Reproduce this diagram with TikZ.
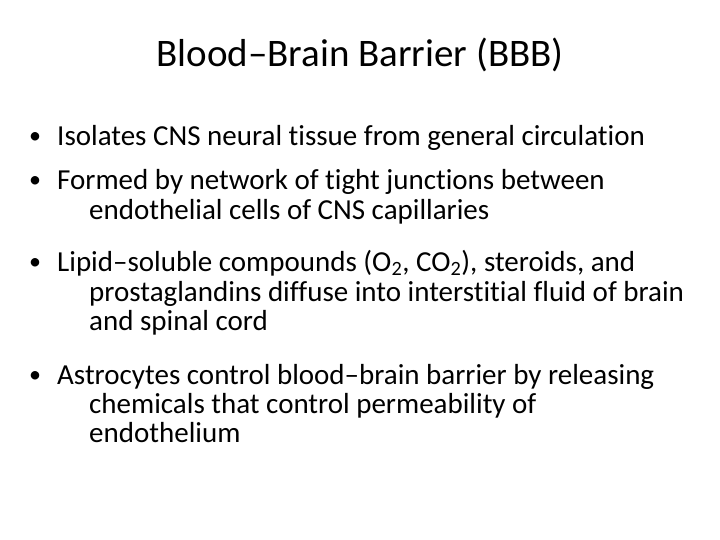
\documentclass[tikz,border=0pt]{standalone}
\usepackage{fontspec}
\setmainfont[Ligatures={NoCommon}]{Carlito}
\tikzset{
  bodyline/.style={anchor=base west,inner sep=0pt,font=\fontsize{29}{35}\selectfont},
  bulletmark/.style={anchor=base west,inner sep=0pt,font=\fontsize{24}{29}\selectfont}
}
\begin{document}
\begin{tikzpicture}[x=1pt,y=-1pt]
	\useasboundingbox (0,0) rectangle (720,540);

	\node[anchor=base,inner sep=0pt,font=\fontsize{39}{47}\selectfont] (title) at (360,67) {Blood--Brain Barrier (BBB)};

	% bullets
	\node[bulletmark] (b1) at (29,144) {•};
	\node[bulletmark] (b2) at (29,188) {•};
	\node[bulletmark] (b3) at (29,269) {•};
	\node[bulletmark] (b4) at (29,382) {•};

	% lines
	\node[bodyline] (l1) at (57,146) {Isolates CNS neural tissue from general circulation};
	\node[bodyline] (l2) at (57,190) {Formed by network of tight junctions between};
	\node[bodyline] (l3) at (89,220) {endothelial cells of CNS capillaries};
	\node[bodyline] (l4) at (57,271) {Lipid--soluble compounds (O\textsubscript{2}, CO\textsubscript{2}), steroids, and};
	\node[bodyline] (l5) at (89,301) {prostaglandins diffuse into interstitial fluid of brain};
	\node[bodyline] (l6) at (89,330) {and spinal cord};
	\node[bodyline] (l7) at (57,384) {Astrocytes control blood--brain barrier by releasing};
	\node[bodyline] (l8) at (89,413) {chemicals that control permeability of};
	\node[bodyline] (l9) at (89,442) {endothelium};

\end{tikzpicture}
\end{document}
